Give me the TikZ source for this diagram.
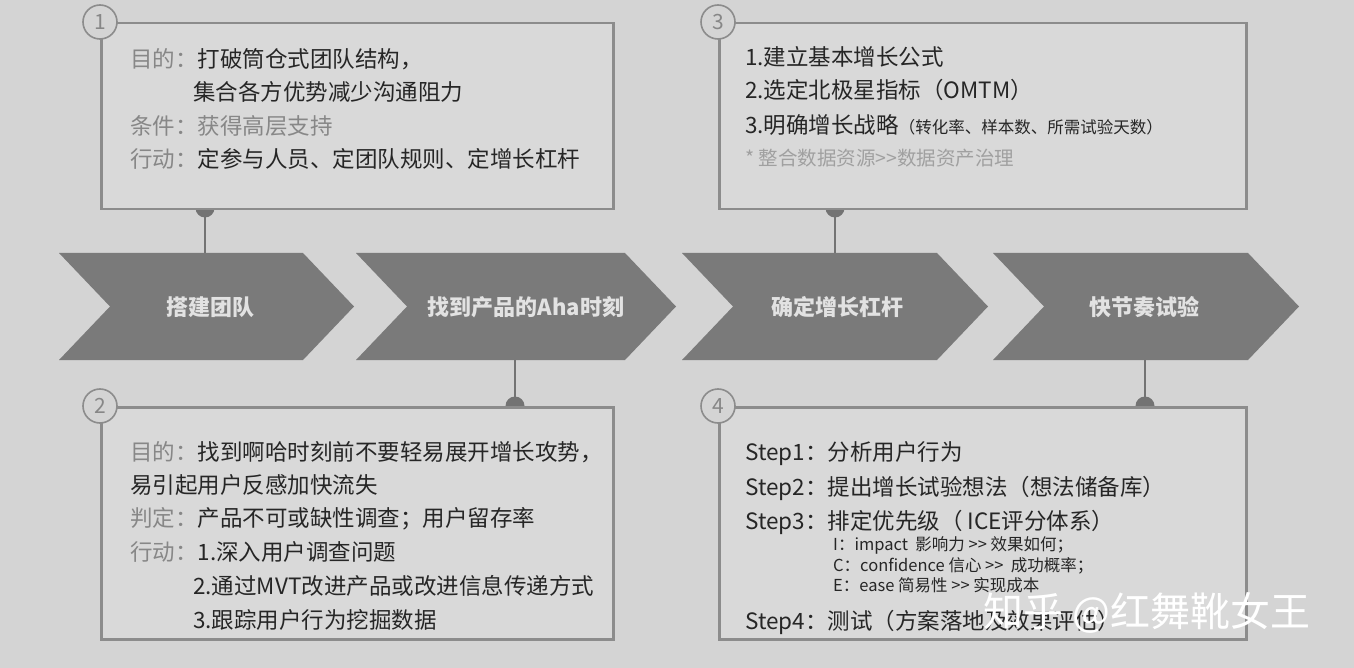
\documentclass[tikz,border=0pt]{standalone}
\usepackage{fontspec}
\setmainfont{Noto Sans CJK SC}
\usetikzlibrary{positioning}

\definecolor{bgc}{RGB}{212,212,212}
\definecolor{boxfill}{RGB}{217,217,217}
\definecolor{boxline}{RGB}{140,140,140}
\definecolor{chevc}{RGB}{122,122,122}
\definecolor{chevtext}{RGB}{226,226,226}
\definecolor{lblc}{RGB}{135,135,135}
\definecolor{txtc}{RGB}{38,38,38}
\definecolor{notec}{RGB}{160,160,160}
\definecolor{dotc}{RGB}{115,115,115}

\newcommand{\twogt}{>\kern0pt>}

\tikzset{
  box/.style={draw=boxline, line width=2.5pt, fill=boxfill, anchor=north west, inner sep=0pt},
  num/.style={circle, draw=boxline, line width=1.6pt, fill=bgc, minimum size=34pt, inner sep=0pt,
    text=lblc, font=\fontsize{21}{21}\selectfont},
  chev/.style={fill=chevc},
  chevtxt/.style={text=chevtext, font=\fontsize{22}{22}\selectfont\bfseries},
  txt/.style={anchor=base west, inner sep=0pt, text=txtc, font=\fontsize{22.5}{26}\selectfont},
  small/.style={anchor=base west, inner sep=0pt, text=txtc, font=\fontsize{16.5}{19}\selectfont},
  link/.style={draw=dotc, line width=2pt},
}

\begin{document}
\begin{tikzpicture}[x=1pt, y=-1pt]
  % 背景
  \fill[bgc] (0,0) rectangle (1354,668);

  % 1. 流程箭头：左端 x / 主体宽 / 文字中心 / 名称 / 标签
  \foreach \x/\w/\cx/\name/\txt in {59/244/210/s1/搭建团队,
      356/269/526/s2/找到产品的Aha时刻,
      682/255/837/s3/确定增长杠杆,
      993/255/1144/s4/快节奏试验}{
    \fill[chev] (\x,253) -- ++(\w,0) -- ++(51,53.5) -- ++(-51,53.5) -- ++(-\w,0) -- ++(51,-53.5) -- cycle;
    \node[chevtxt] (\name) at (\cx,307) {\txt};
  }

  % 连接点（箭头上下边）
  \coordinate (t1) at (205,253);
  \coordinate (t2) at (515,360);
  \coordinate (t3) at (835,253);
  \coordinate (t4) at (1145,360);

  % 2. 圆点（先画，方框盖住一半）
  \fill[dotc] (205,208) circle (9.5pt);
  \fill[dotc] (835,208) circle (9.5pt);
  \fill[dotc] (515,406) circle (9.5pt);
  \fill[dotc] (1145,406) circle (9.5pt);

  % 3. 四个方框
  \node[box, minimum width=512pt, minimum height=186pt] (b1) at (100,22) {};
  \node[box, minimum width=527pt, minimum height=186pt] (b3) at (718,22) {};
  \node[box, minimum width=512pt, minimum height=232pt] (b2) at (100,406) {};
  \node[box, minimum width=527pt, minimum height=232pt] (b4) at (718,406) {};

  % 连线：方框 -> 箭头
  \draw[link] (t1 |- b1.south) -- (t1);
  \draw[link] (t3 |- b3.south) -- (t3);
  \draw[link] (t2) -- (t2 |- b2.north);
  \draw[link] (t4) -- (t4 |- b4.north);

  % 编号圆圈
  \node[num] (n1) at (b1.north west) {1};
  \node[num] (n2) at (b2.north west) {2};
  \node[num] (n3) at (b3.north west) {3};
  \node[num] (n4) at (b4.north west) {4};

  % 4. 方框 1 文字
  \node[txt] (a1) at (130,68) {{\color{lblc}目的：}打破筒仓式团队结构，};
  \node[txt] (a2) at (193,101) {集合各方优势减少沟通阻力};
  \node[txt, text=lblc] (a3) at (130,135) {条件：获得高层支持};
  \node[txt] (a4) at (130,168) {{\color{lblc}行动：}定参与人员、定团队规则、定增长杠杆};

  % 方框 3 文字
  \node[txt] (c1) at (745,66) {1.建立基本增长公式};
  \node[txt] (c2) at (745,99) {2.选定北极星指标（OMTM）};
  \node[txt] (c3) at (745,134) {3.明确增长战略{\fontsize{16.5}{19}\selectfont（转化率、样本数、所需试验天数）}};
  \node[txt, text=notec, font=\fontsize{19.5}{22}\selectfont] (c4) at (745,166) {* 整合数据资源\twogt 数据资产治理};

  % 方框 2 文字
  \node[txt] (e1) at (130,460) {{\color{lblc}目的：}找到啊哈时刻前不要轻易展开增长攻势，};
  \node[txt] (e2) at (130,493) {易引起用户反感加快流失};
  \node[txt] (e3) at (130,526) {{\color{lblc}判定：}产品不可或缺性调查；用户留存率};
  \node[txt] (e4) at (130,560) {{\color{lblc}行动：}1.深入用户调查问题};
  \node[txt] (e5) at (193,594) {2.通过MVT改进产品或改进信息传递方式};
  \node[txt] (e6) at (193,628) {3.跟踪用户行为挖掘数据};

  % 方框 4 文字
  \node[txt] (f1) at (745,460) {Step1：分析用户行为};
  \node[txt] (f2) at (745,495) {Step2：提出增长试验想法（想法储备库）};
  \node[txt] (f3) at (745,529) {Step3：排定优先级（ ICE评分体系）};
  \node[small] (f4) at (833,550) {I：impact\ \ 影响力 \twogt\ 效果如何；};
  \node[small] (f5) at (833,571) {C：confidence 信心 \twogt\ \ 成功概率；};
  \node[small] (f6) at (833,591) {E：ease 简易性 \twogt\ 实现成本};
  \node[txt] (f7) at (745,629) {Step4：测试（方案落地及效果评估）};

  % 水印
  \node[text=white, font=\fontsize{40}{44}\selectfont, anchor=base west, inner sep=0pt] (wm) at (983,626) {知乎 @红舞靴女王};
\end{tikzpicture}
\end{document}
